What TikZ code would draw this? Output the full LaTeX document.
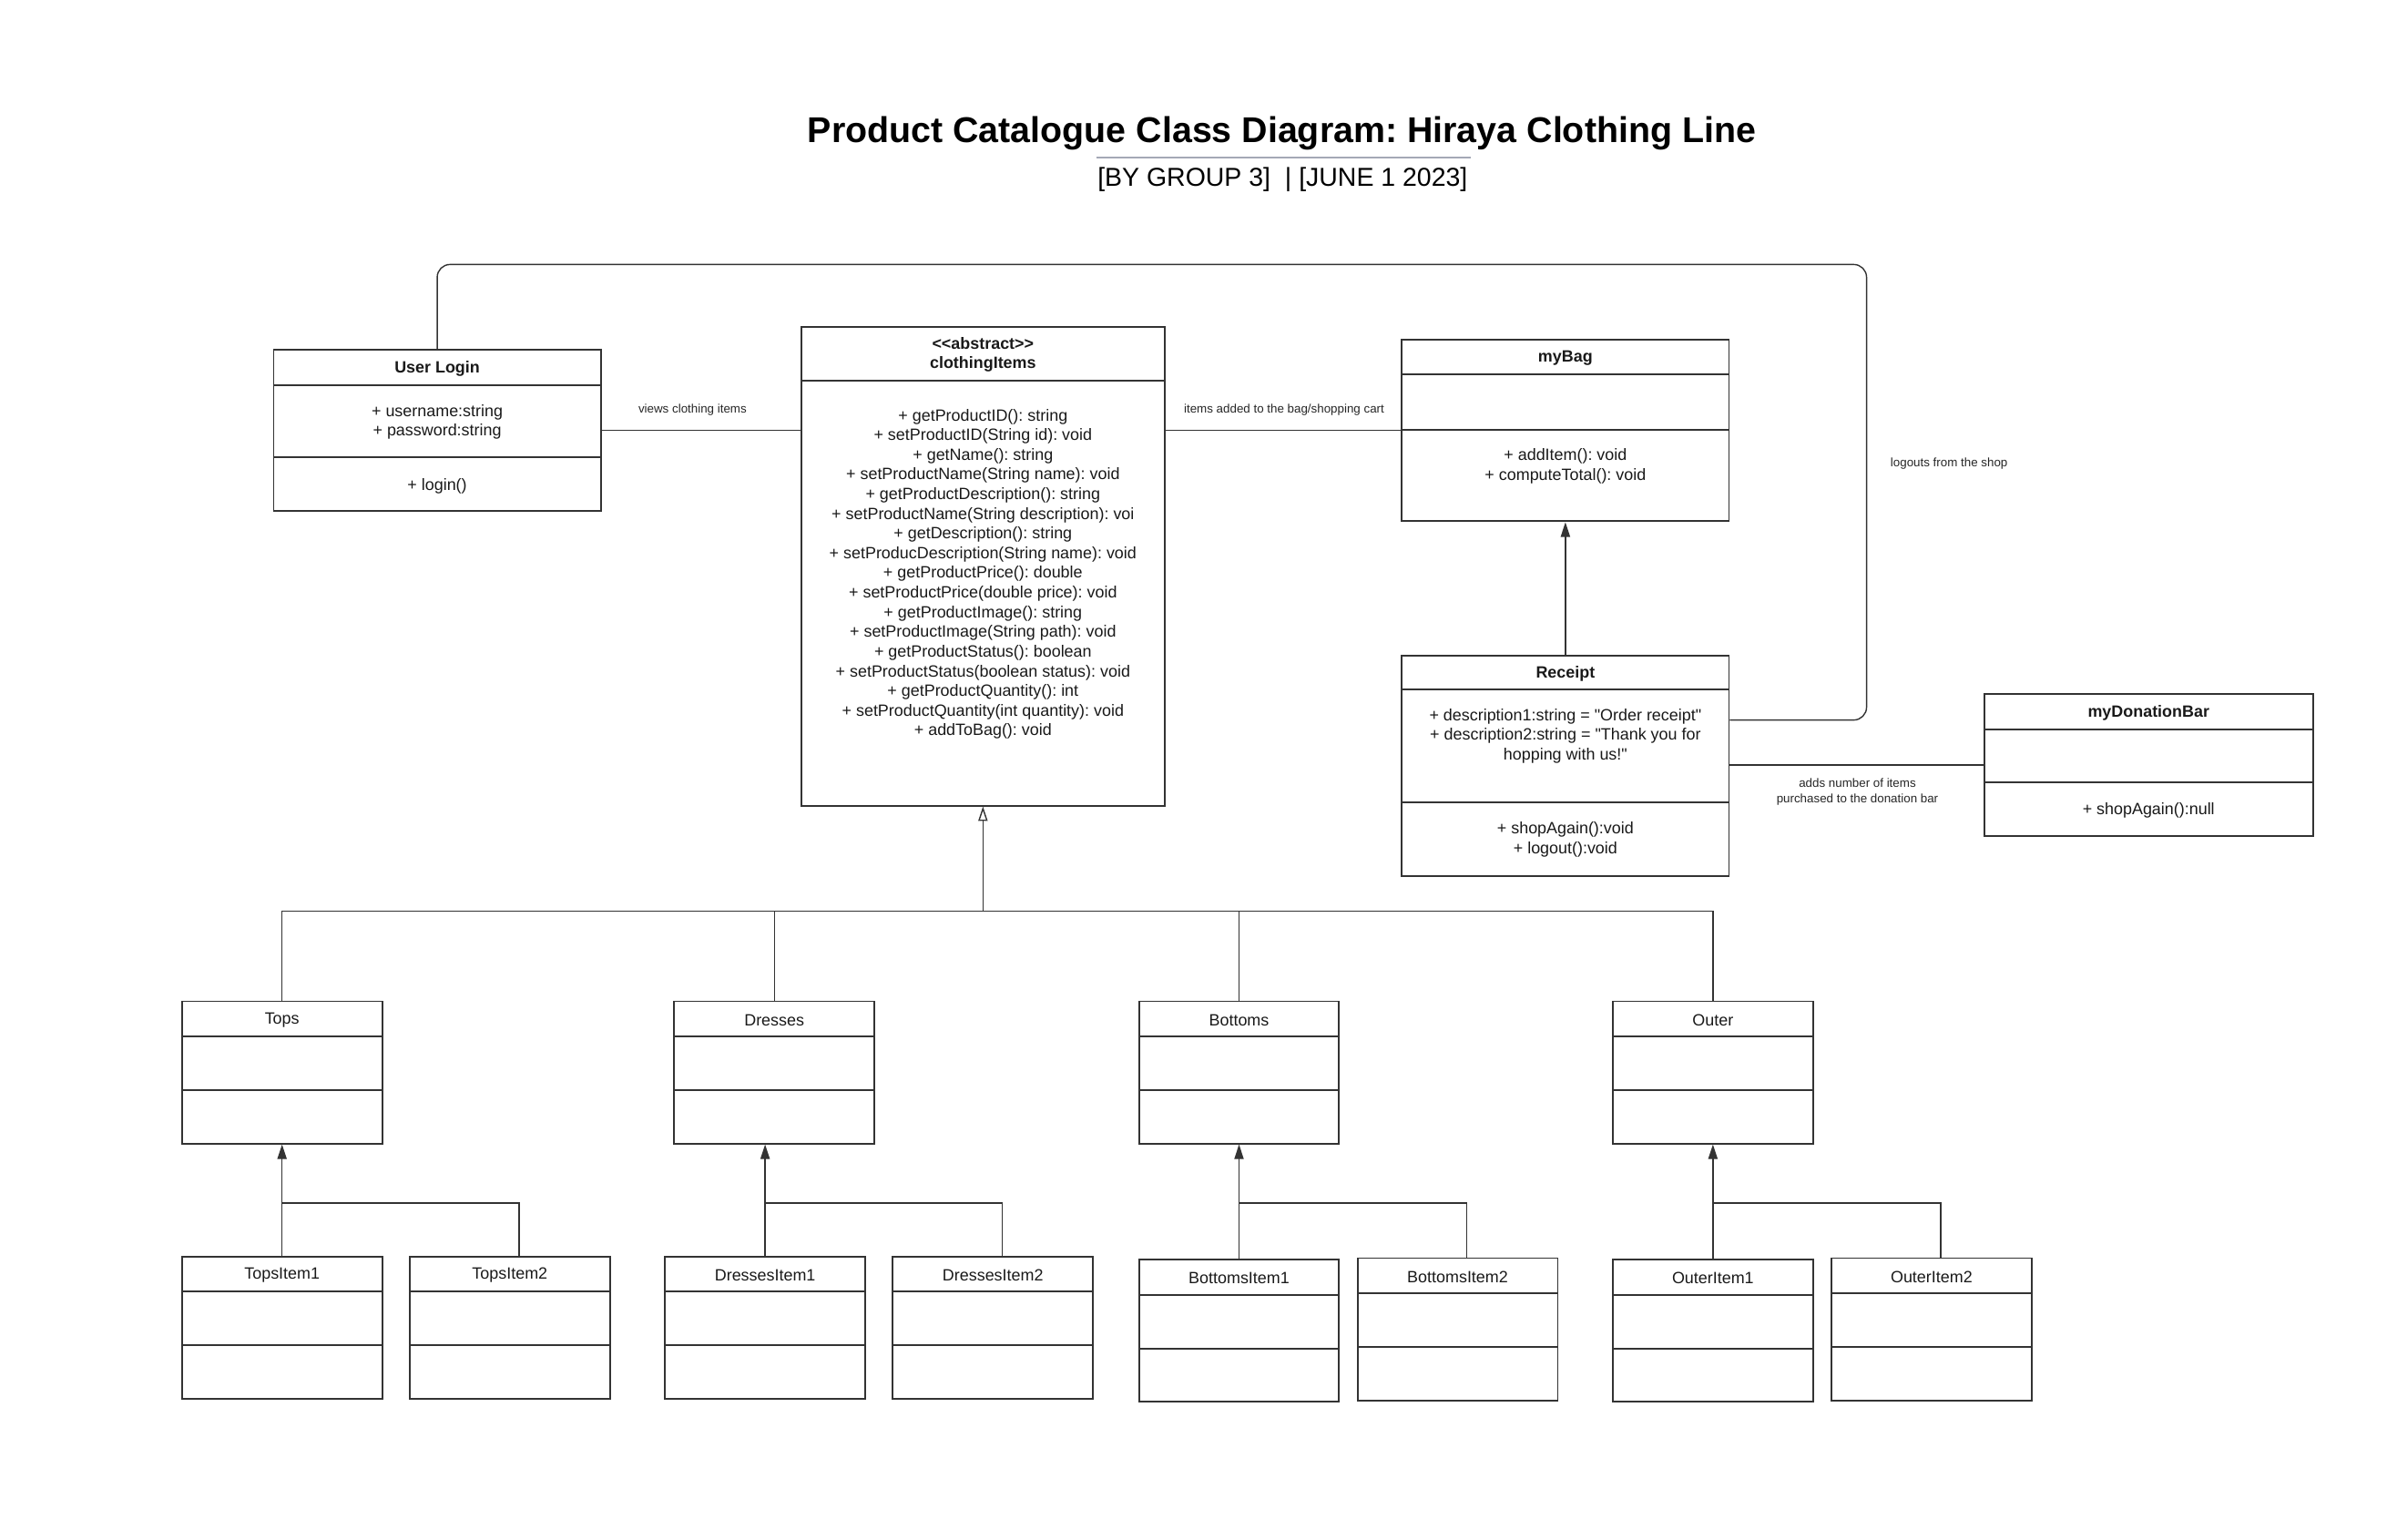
\documentclass[tikz,border=0pt]{standalone}
\usepackage{fontspec}
\setmainfont{Liberation Sans}
\newfontfamily\rawsans{Liberation Sans}
\usepackage{xcolor}
\usepackage{tikz}
\usetikzlibrary{positioning,fit,arrows.meta}

\definecolor{boxline}{HTML}{333333}
\definecolor{wiregray}{HTML}{333333}
\definecolor{rulegray}{HTML}{A4A8B6}

\newcommand{\bodyfont}{\fontsize{5.1}{6.15}\selectfont}
\newcommand{\notefont}{\fontsize{3.8}{4.8}\selectfont}
\frenchspacing

\begin{document}
\begin{tikzpicture}[x=0.016786cm,y=-0.016786cm,
  box/.style={draw=boxline,line width=0.55pt,inner sep=0pt},
  txt/.style={font=\bodyfont,align=center,text=black!90,inner sep=0pt},
  note/.style={font=\notefont,align=center,text=black!85,inner sep=0pt},
  wire/.style={draw=wiregray,line width=0.4pt},
  arr/.style={wire,-{Triangle[length=4.6pt,width=2.9pt]}},
  gen/.style={wire,-{Triangle[open,length=4.5pt,width=2.9pt]}}]
\def\classbox#1#2#3#4#5#6#7#8{%
  \node[box,fit={(#2,#3) (#4,#5)}] (#1) {};
  \draw[box] (#2,#6) -- (#4,#6) (#2,#7) -- (#4,#7);
  \node[txt] (#1-name) at ({(#2+#4)/2},{(#3+#6)/2+0.8}) {#8};}
  \useasboundingbox (0,0) rectangle (1568,1007);

  % title
  \node[font=\fontsize{11.2}{13}\selectfont\bfseries,inner sep=0pt] (title) at (838.5,87.5)
    {Product Catalogue Class Diagram: Hiraya Clothing Line};
  \draw[rulegray,line width=0.45pt] (717,103) -- (962,103);
  \node[font=\fontsize{8.1}{9.5}\selectfont,inner sep=0pt] (subtitle) at (839,117.5)
    {[BY GROUP 3]\ \ |\ [JUNE 1 2023]};

  % top row
  \classbox{login}{179}{229}{393}{334}{252}{299}{\bfseries User Login}
  \node[txt] (login-attr) at (286,276) {+ username:string\\+ password:string};
  \node[txt] (login-ops) at (286,318) {+ login()};

  \node[box,fit={(524,214) (762,527)}] (clothing) {};
  \draw[box] (524,249) -- (762,249);
  \node[txt,font=\bodyfont\rawsans\bfseries] (clothing-name) at (643,232)
    {<<abstract>>\\clothingItems};
  \node[txt] (clothing-ops) at (643,375.5) {+ getProductID(): string\\
    + setProductID(String id): void\\
    + getName(): string\\
    + setProductName(String name): void\\
    + getProductDescription(): string\\
    + setProductName(String description): voi\\
    + getDescription(): string\\
    + setProducDescription(String name): void\\
    + getProductPrice(): double\\
    + setProductPrice(double price): void\\
    + getProductImage(): string\\
    + setProductImage(String path): void\\
    + getProductStatus(): boolean\\
    + setProductStatus(boolean status): void\\
    + getProductQuantity(): int\\
    + setProductQuantity(int quantity): void\\
    + addToBag(): void};

  \classbox{mybag}{917}{222}{1131}{341}{245}{281}{\bfseries myBag}
  \node[txt] (mybag-ops) at (1024,305) {+ addItem(): void\\+ computeTotal(): void};

  \classbox{receipt}{917}{429}{1131}{573}{451}{525}{\bfseries Receipt}
  \node[txt,font=\bodyfont\rawsans] (receipt-attr) at (1024,481.5)
    {+ description1:string = "Order receipt"\\
    + description2:string = "Thank you for\\hopping with us!"};
  \node[txt] (receipt-ops) at (1024,549) {+ shopAgain():void\\+ logout():void};

  \classbox{donation}{1298}{454}{1513}{547}{477}{512}{\bfseries myDonationBar}
  \node[txt] (donation-ops) at (1405.5,530) {+ shopAgain():null};

  % associations
  \draw[wire] (login.east) -- (login.east -| clothing.west);
  \node[note] (views) at (453,268) {views clothing items};
  \draw[wire] (mybag.west -| clothing.east) -- (mybag.west);
  \node[note] (added) at (840,268) {items added to the bag/shopping cart};
  \draw[arr] (receipt.north) -- (mybag.south);
  \coordinate (logoutcorner) at (1221,173);
  \draw[wire,rounded corners=4pt] (login.north) |- (logoutcorner) |- (receipt.east |- 0,471);
  \node[note] (logouts) at (1275,303) {logouts from the shop};
  \draw[wire] (receipt.east |- donation.west) -- (donation.west);
  \node[note] (donates) at (1215,518) {adds number of items\\purchased to the donation bar};

  % categories
  \classbox{tops}{119}{655}{250}{748}{678}{713}{Tops}
  \classbox{dresses}{441}{655}{572}{748}{678}{713}{Dresses}
  \classbox{bottoms}{745}{655}{876}{748}{678}{713}{Bottoms}
  \classbox{outer}{1055}{655}{1186}{748}{678}{713}{Outer}
  \coordinate (bus) at (643,596);
  \draw[gen] (bus) -- (clothing.south);
  \draw[wire] (tops.north) |- (bus);
  \draw[wire] (dresses.north) |- (bus);
  \draw[wire] (bottoms.north) |- (bus);
  \draw[wire] (outer.north) |- (bus);

  % items
  \classbox{ti1}{119}{822}{250}{915}{845}{880}{TopsItem1}
  \classbox{ti2}{268}{822}{399}{915}{845}{880}{TopsItem2}
  \classbox{di1}{435}{822}{566}{915}{845}{880}{DressesItem1}
  \classbox{di2}{584}{822}{715}{915}{845}{880}{DressesItem2}
  \classbox{bi1}{745}{824}{876}{917}{847}{882}{BottomsItem1}
  \classbox{bi2}{888}{823}{1019}{916}{846}{881}{BottomsItem2}
  \classbox{oi1}{1055}{824}{1186}{917}{847}{882}{OuterItem1}
  \classbox{oi2}{1198}{823}{1329}{916}{846}{881}{OuterItem2}

  \draw[arr] (ti1.north) -- (tops.south);
  \draw[wire] ([xshift=1mm]ti2.north) |- (ti1.north |- 0,787);
  \draw[arr] (di1.north) -- (di1.north |- dresses.south);
  \draw[wire] ([xshift=1mm]di2.north) |- (di1.north |- 0,787);
  \draw[arr] (bi1.north) -- (bottoms.south);
  \draw[wire] ([xshift=1mm]bi2.north) |- (bi1.north |- 0,787);
  \draw[arr] (oi1.north) -- (outer.south);
  \draw[wire] ([xshift=1mm]oi2.north) |- (oi1.north |- 0,787);
\end{tikzpicture}
\end{document}
